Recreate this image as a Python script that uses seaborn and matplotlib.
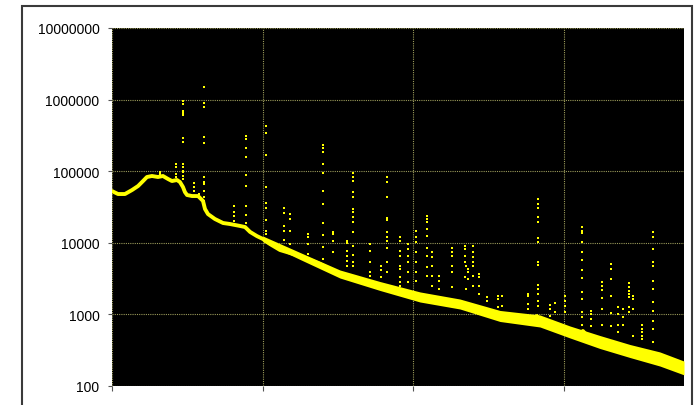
import pandas as pd
import matplotlib
matplotlib.use("Agg")
import matplotlib.pyplot as plt
import seaborn as sns
from matplotlib.patches import Rectangle
from matplotlib.ticker import FixedLocator, FixedFormatter, NullLocator, NullFormatter

# ---- data ----
base_x = [0, 40, 86, 133, 173, 206, 232, 265, 305, 338, 372, 398, 431, 451, 471, 484, 498,
          531, 571, 604, 617, 637, 683, 737, 783, 849, 883, 916, 962, 1002, 1048, 1115,
          1181, 1248, 1314, 1380, 1447, 1513, 1579, 1646, 1712, 1778, 1845, 1911, 1977,
          2044, 2110, 2177, 2243, 2309, 2376, 2442, 2508, 2575, 2641, 2707, 2774, 2820,
          2840, 2906, 2973, 3039, 3086, 3125, 3172, 3238, 3304, 3371, 3437, 3504, 3570,
          3636, 3703, 3769, 3796]
base_y = [52800, 48000, 48000, 54600, 62100, 72900, 83000, 85700, 83000, 85700, 77800,
          72900, 75300, 70600, 60100, 51100, 46500, 45000, 45000, 38400, 29700, 25200,
          21500, 18900, 18300, 17200, 16600, 14200, 12400, 11300, 9620, 7930, 7200, 6540,
          5750, 5060, 4310, 3670, 3330, 2840, 2660, 2490, 2260, 2060, 1810, 1750, 1640,
          1540, 1490, 1400, 1310, 1110, 1080, 950, 891, 863, 809, 950, 809, 735, 667, 568,
          483, 586, 453, 412, 362, 329, 308, 280, 262, 238, 203, 184, 178]

band_x = [1002, 1248, 1513, 1778, 2044, 2309, 2575, 2840, 3039, 3238, 3437, 3636, 3796]
band_hi = [12400, 7320, 4170, 2880, 2060, 1640, 1135, 982, 689, 507, 380, 299, 223]
band_lo = [10300, 5850, 3220, 2160, 1490, 1190, 796, 667, 469, 334, 250, 190, 143]

spike_x = [319, 425, 471, 544, 577, 610, 810, 889, 1022, 1141, 1181, 1301, 1400, 1466,
           1559, 1599, 1712, 1785, 1825, 1911, 1964, 2017, 2090, 2123, 2170, 2256, 2342,
           2349, 2362, 2396, 2435, 2488, 2561, 2588, 2760, 2827, 2906, 2940, 3006, 3119,
           3178, 3251, 3311, 3358, 3391, 3431, 3457, 3517, 3590]
spike_vals = [
    [97500, 91400],
    [126000, 115000, 91400, 83000],
    [955000, 869000, 693000, 650000, 610000, 291000, 256000, 126000, 115000, 101000,
     97500, 85700, 77800],
    [68400, 60100, 52800],
    [48000, 43600],
    [1500000, 897000, 789000, 300000, 248000, 83000, 70600, 66200, 52800, 43600, 38400],
    [32700, 26900, 23700, 20200],
    [310000, 282000, 211000, 158000, 88500, 62100, 32700, 24400, 18900],
    [428000, 342000, 168000, 60100, 36000, 30600, 20800, 14600, 13300],
    [30600, 26100, 17200, 14600, 10900],
    [25200, 21500, 14600, 9620],
    [13300, 12000, 9620, 6980],
    [232000, 211000, 185000, 126000, 94400, 52800, 34800, 18900, 12900, 8730, 5940],
    [14200, 13300, 10600, 7440],
    [10600, 9930, 7690, 6540, 5570, 4740],
    [94400, 83000, 72900, 51100, 43600, 29700, 26900, 22900, 19500, 14200, 9020, 6760,
     5400, 4740],
    [9620, 7690, 5400, 3910, 3440],
    [4740, 4170, 3330],
    [83000, 70600, 43600, 22200, 20800, 14200, 12000, 10600, 8450, 5400, 3910],
    [12000, 10600, 7690, 6540, 4740, 4310, 3330, 2840, 2490],
    [9620, 8190, 6540, 5400, 3910, 2840],
    [14600, 12000, 10300, 7440, 5400, 3910, 2930],
    [23700, 21500, 19500, 15600, 12400, 8450, 6540, 4590, 3440],
    [7440, 6340, 4740, 3440, 2490],
    [3440, 2930, 2260],
    [8450, 7440, 6540, 4740, 3910, 2420],
    [9020, 8190, 6540, 5400, 3330],
    [4740, 2260],
    [4310, 3910, 3120],
    [9020, 7440, 6340, 5400, 4740, 3440, 2490],
    [3670, 3330, 2490, 1930],
    [1750, 1540],
    [1810, 1640, 1270],
    [1810, 1310],
    [1930, 1810, 1400, 1190],
    [40900, 34800, 30600, 22900, 19500, 11700, 10300, 5400, 4900, 2580, 2260, 1930,
     1540, 1310],
    [1350, 1190, 950],
    [1440, 1080],
    [1810, 1540, 1310, 1080],
    [16600, 14600, 13700, 10300, 7440, 5750, 4170, 3220, 2060, 1640, 1080, 920, 711],
    [1110, 1010, 863, 689],
    [2840, 2490, 2190, 1690, 1190, 711],
    [5060, 4310, 3120, 1810, 1050, 689],
    [1270, 1010, 711, 568],
    [1190, 920, 711],
    [2750, 2420, 2120, 1930, 1750, 1270, 1080],
    [1810, 1640, 1190, 499],
    [711, 625, 568, 499, 453],
    [14200, 12000, 8190, 5400, 4740, 2930, 2260, 1490, 1110, 809, 625, 412],
]

y_ticks = [100, 1000, 10000, 100000, 1000000, 10000000]
y_tick_labels = ["100", "1000", "10000", "100000", "1000000", "10000000"]
x_ticks = [0, 1000, 2000, 3000]

# ---- build tables ----
base_df = pd.DataFrame({"x": base_x, "y": base_y})
rows = [(sx, v) for sx, vals in zip(spike_x, spike_vals) for v in vals]
spike_df = pd.DataFrame(rows, columns=["x", "y"])

sns.set_theme(style="white")
plt.rcParams['font.family'] = ['Liberation Sans', 'DejaVu Sans']

YEL = "#ffff00"
GRID = "#9a9a5a"

fig = plt.figure(figsize=(6.96, 4.06), dpi=100)
fig.patch.set_facecolor("white")
ax = fig.add_axes([112 / 696, 1 - 387 / 406, 572 / 696, 358 / 406])
ax.set_facecolor("black")
ax.set_yscale("log")

ax.fill_between(band_x, band_lo, band_hi, color=YEL, lw=0, zorder=2)
sns.lineplot(data=base_df, x="x", y="y", color=YEL, lw=2.8, estimator=None,
             ax=ax, zorder=3)
sns.scatterplot(data=spike_df, x="x", y="y", marker="s", s=3.2, color=YEL,
                linewidth=0, ax=ax, zorder=4)

ax.set_xlim(0, 3796)
ax.set_ylim(100, 10000000)
ax.set_xlabel("")
ax.set_ylabel("")

ax.yaxis.set_major_locator(FixedLocator(y_ticks))
ax.yaxis.set_major_formatter(FixedFormatter(y_tick_labels))
ax.yaxis.set_minor_locator(NullLocator())
ax.yaxis.set_minor_formatter(NullFormatter())
ax.xaxis.set_major_locator(FixedLocator(x_ticks))
ax.xaxis.set_major_formatter(NullFormatter())
ax.xaxis.set_minor_locator(NullLocator())

ax.tick_params(axis="y", which="major", left=True, length=3, width=0.8,
               color="#555555", labelsize=10, labelcolor="black", pad=6)
ax.tick_params(axis="x", which="major", bottom=True, length=3.5, width=0.8,
               color="#555555")

ax.grid(True, which="major", color=GRID, linestyle=(0, (1, 1)), lw=0.8, zorder=1)
ax.set_axisbelow(True)
for s in ax.spines.values():
    s.set_visible(False)

fig.add_artist(Rectangle((22 / 696, -0.05), (692 - 22) / 696, 1.05 - 7 / 406,
                         transform=fig.transFigure, fill=False,
                         edgecolor="#3a3a3a", lw=1.5))

fig.savefig("out.png", dpi=100, facecolor="white")
